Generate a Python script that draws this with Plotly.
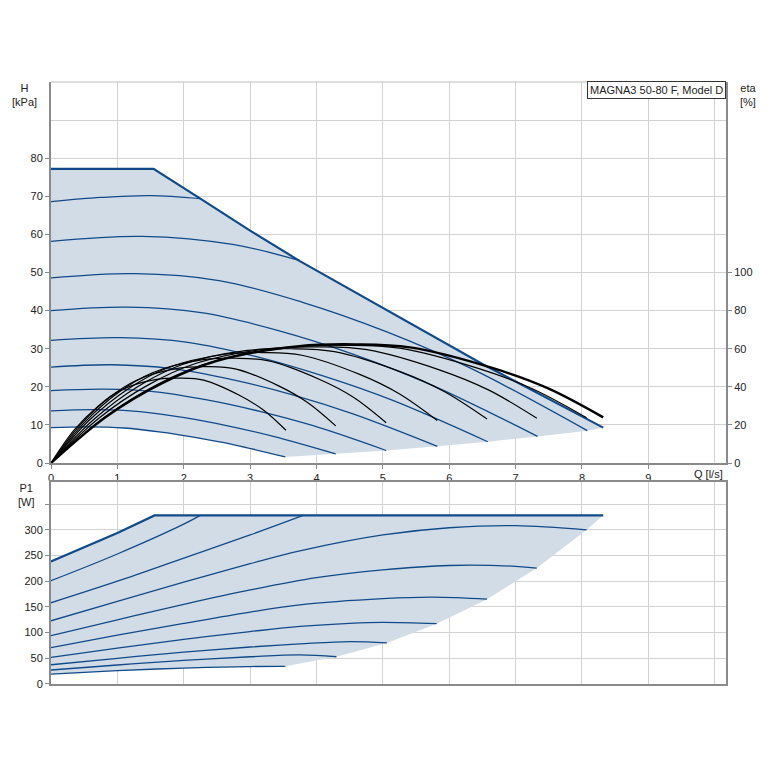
import plotly.graph_objects as go

# ---------------- data ----------------
# Head curves (Q [l/s], H [kPa]) for the nine speed steps
h_flow = [
    [0, 0.75, 1.5, 2.25],
    [0, 1.38, 2.76, 3.75],
    [0, 1.26, 2.53, 3.79, 5.05, 6.32, 8.08],
    [0, 1.15, 2.29, 3.44, 4.58, 5.73, 7.33],
    [0, 1.03, 2.06, 3.08, 4.11, 5.14, 6.58],
    [0, 0.91, 1.82, 2.73, 3.64, 4.55, 5.82],
    [0, 0.79, 1.58, 2.37, 3.16, 3.95, 5.05],
    [0, 0.67, 1.34, 2.01, 2.68, 3.35, 4.29],
    [0, 0.55, 1.10, 1.66, 2.21, 2.76, 3.53],
]
h_head = [
    [68.6, 69.7, 70.2, 69.4],
    [58.2, 59.5, 57.3, 53.1],
    [48.6, 49.7, 47.9, 42.2, 34.5, 24.9, 8.5],
    [40.0, 40.9, 39.4, 34.7, 28.4, 20.5, 7.0],
    [32.2, 32.9, 31.7, 28.0, 22.8, 16.5, 5.6],
    [25.2, 25.8, 24.8, 21.9, 17.9, 12.9, 4.4],
    [19.0, 19.4, 18.7, 16.5, 13.5, 9.8, 3.3],
    [13.7, 14.0, 13.5, 11.9, 9.7, 7.0, 2.4],
    [9.3, 9.5, 9.2, 8.1, 6.6, 4.8, 1.6],
]
# Maximum curve
hmax_flow = [0, 1.545, 2.25, 3.0, 3.75, 4.21, 5.0, 6.52, 8.32]
hmax_head = [77.2, 77.2, 69.4, 61.0, 53.0, 48.5, 40.6, 25.8, 9.3]

# Efficiency curves (Q [l/s], eta [%]); last one is the max curve
eta_flow = [
    [0, 0.35, 0.71, 1.06, 1.59, 1.95, 2.30, 2.83, 3.19, 3.54],
    [0, 0.43, 0.86, 1.29, 1.93, 2.36, 2.79, 3.43, 3.86, 4.29],
    [0, 0.51, 1.01, 1.52, 2.27, 2.78, 3.28, 4.04, 4.55, 5.05],
    [0, 0.58, 1.16, 1.75, 2.62, 3.20, 3.78, 4.66, 5.24, 5.82],
    [0, 0.66, 1.31, 1.97, 2.96, 3.61, 4.27, 5.26, 5.91, 6.57],
    [0, 0.73, 1.46, 2.20, 3.29, 4.03, 4.76, 5.86, 6.59, 7.32],
    [0, 0.81, 1.61, 2.42, 3.63, 4.44, 5.25, 6.46, 7.26, 8.07],
]
eta_val = [
    [0, 17.4, 29.9, 38.4, 43.9, 44.6, 43.5, 35.7, 28.1, 17.2],
    [0, 19.7, 33.9, 43.5, 49.8, 50.6, 49.3, 40.5, 31.9, 19.5],
    [0, 21.5, 36.9, 47.3, 54.2, 55.0, 53.6, 44.0, 34.7, 21.2],
    [0, 22.6, 38.9, 49.9, 57.1, 58.0, 56.6, 46.4, 36.5, 22.3],
    [0, 23.4, 40.2, 51.6, 59.1, 60.0, 58.5, 48.0, 37.8, 23.1],
    [0, 23.8, 40.9, 52.5, 60.1, 61.0, 59.5, 48.8, 38.4, 23.5],
    [0, 24.1, 41.4, 53.1, 60.9, 61.8, 60.3, 49.4, 38.9, 23.8],
]
etamax_flow = [0, 0.83, 1.66, 2.50, 3.74, 4.58, 5.41, 6.66, 7.49, 8.32]
etamax_val = [0, 24.3, 41.7, 53.6, 61.4, 62.3, 60.7, 49.8, 39.2, 24.0]

# Power curves (Q [l/s], P1 [W])
p_flow = [
    [0, 1, 2, 2.25],
    [0, 1, 2, 3, 3.8],
    [0, 1, 2, 3, 3.75, 5, 6, 7, 8.07],
    [0, 1, 2, 3, 4, 5, 6, 7, 7.32],
    [0, 1, 2, 3, 3.75, 5, 5.75, 6.57],
    [0, 1, 2, 3, 3.75, 4.5, 5, 5.81],
    [0, 1, 2, 3, 3.75, 4.5, 5.06],
    [0, 1, 2, 3, 3.75, 4.3],
    [0, 1, 2, 3, 3.53],
]
p_power = [
    [201, 253, 311, 328],
    [158, 200, 245, 290, 328],
    [123, 161, 198, 234, 259, 290, 304, 308, 300],
    [94, 125, 155, 183, 207, 222, 230.6, 229, 225.5],
    [70.6, 95, 118, 140, 154, 166, 169, 165],
    [51.8, 70, 87, 102, 112, 118, 119.8, 117.3],
    [37.5, 50, 62, 72, 78, 82.5, 80],
    [27.2, 37, 46, 53, 56.5, 53],
    [19.4, 26, 31, 34, 34.3],
]
pmax_flow = [0, 1.0, 1.56, 8.32]
pmax_power = [238.4, 294, 328, 328]

x_ticks = [0, 1, 2, 3, 4, 5, 6, 7, 8, 9]
h_ticks = [0, 10, 20, 30, 40, 50, 60, 70, 80]
eta_ticks = [0, 20, 40, 60, 80, 100]
p_ticks = [0, 50, 100, 150, 200, 250, 300, 350]
p_ticklabels = ["0", "50", "100", "150", "200", "250", "300", ""]

title_text = "MAGNA3 50-80 F, Model D"

# ---------------- styling ----------------
BLUE = "#114a88"
FILL = "#d1dce7"
GRID = "#d2d2d2"
AXIS = "#8a8a8a"
FONT = dict(family="Liberation Sans, Arial, sans-serif", size=11, color="#222222")

fig = go.Figure()

# --- head fill region (built from the curve data) ---
fill_q = list(h_flow[-1])
fill_h = list(h_head[-1])
for i in range(len(h_flow) - 2, 1, -1):
    fill_q.append(h_flow[i][-1])
    fill_h.append(h_head[i][-1])
fill_q += hmax_flow[::-1]
fill_h += hmax_head[::-1]
fig.add_trace(go.Scatter(x=fill_q, y=fill_h, mode="lines", fill="toself",
                         fillcolor=FILL, line=dict(width=0), xaxis="x", yaxis="y",
                         hoverinfo="skip", showlegend=False))

for q, h in zip(h_flow, h_head):
    fig.add_trace(go.Scatter(x=q, y=h, mode="lines", line=dict(color=BLUE, width=1.3, shape="spline"),
                             xaxis="x", yaxis="y", showlegend=False))
fig.add_trace(go.Scatter(x=hmax_flow, y=hmax_head, mode="lines", line=dict(color=BLUE, width=2.2),
                         xaxis="x", yaxis="y", showlegend=False))

for q, e in zip(eta_flow, eta_val):
    fig.add_trace(go.Scatter(x=q, y=e, mode="lines", line=dict(color="#000000", width=1.2, shape="spline"),
                             xaxis="x", yaxis="y2", showlegend=False))
fig.add_trace(go.Scatter(x=etamax_flow, y=etamax_val, mode="lines",
                         line=dict(color="#000000", width=2.4, shape="spline"),
                         xaxis="x", yaxis="y2", showlegend=False))

# --- power fill region ---
pf_q = list(p_flow[-1])
pf_p = list(p_power[-1])
for i in range(len(p_flow) - 2, 1, -1):
    pf_q.append(p_flow[i][-1])
    pf_p.append(p_power[i][-1])
pf_q += pmax_flow[::-1]
pf_p += pmax_power[::-1]
fig.add_trace(go.Scatter(x=pf_q, y=pf_p, mode="lines", fill="toself",
                         fillcolor=FILL, line=dict(width=0), xaxis="x2", yaxis="y3",
                         hoverinfo="skip", showlegend=False))
for q, p in zip(p_flow, p_power):
    fig.add_trace(go.Scatter(x=q, y=p, mode="lines", line=dict(color=BLUE, width=1.3, shape="spline"),
                             xaxis="x2", yaxis="y3", showlegend=False))
fig.add_trace(go.Scatter(x=pmax_flow, y=pmax_power, mode="lines", line=dict(color=BLUE, width=2.2),
                         xaxis="x2", yaxis="y3", showlegend=False))

XR = [0, 10.17]
axis_common = dict(showline=True, linecolor=AXIS, linewidth=2, zeroline=False,
                   gridcolor=GRID, gridwidth=1.3, tickfont=FONT)

fig.update_layout(
    width=766, height=766,
    margin=dict(l=43, r=48, t=74, b=90),
    paper_bgcolor="white", plot_bgcolor="white",
    font=FONT,
    showlegend=False,
    xaxis=dict(domain=[0, 1], anchor="y", range=XR, tickvals=x_ticks,
               ticks="outside", ticklen=4, tickcolor=AXIS, showgrid=True,
               minor=dict(tickvals=[10], showgrid=True, gridcolor=GRID, ticks=""),
               **axis_common),
    yaxis=dict(domain=[0.367, 1], anchor="x", range=[0, 100], tickvals=h_ticks,
               ticks="outside", ticklen=4, tickcolor=AXIS, showgrid=True,
               minor=dict(tickvals=[90], showgrid=True, gridcolor=GRID, ticks=""),
               **axis_common),
    yaxis2=dict(overlaying="y", side="right", anchor="x", range=[0, 200], tickvals=eta_ticks,
                ticks="outside", ticklen=4, tickcolor=AXIS, showgrid=False,
                showline=True, linecolor=AXIS, linewidth=2, zeroline=False, tickfont=FONT),
    xaxis2=dict(domain=[0, 1], anchor="y3", range=XR, tickvals=x_ticks, showticklabels=False,
                ticks="", showgrid=True, mirror=True,
                minor=dict(tickvals=[10], showgrid=True, gridcolor=GRID, ticks=""),
                **axis_common),
    yaxis3=dict(domain=[0, 0.3355], anchor="x2", range=[0, 393], tickvals=p_ticks,
                ticktext=p_ticklabels, ticks="outside", ticklen=4, tickcolor=AXIS,
                showgrid=True, mirror=True, **axis_common),
)

fig.add_shape(type="line", xref="x domain", yref="y domain", x0=0, x1=1, y0=1, y1=1,
              line=dict(color=GRID, width=1.5))

fig.add_annotation(text=title_text, xref="x domain", yref="y domain", x=1, y=1.003,
                   xanchor="right", yanchor="top", showarrow=False, bgcolor="white",
                   bordercolor="#333333", borderwidth=1, borderpad=2, font=FONT)
fig.add_annotation(text="H<br>[kPa]", xref="paper", yref="paper", x=(25 - 51) / 675, y=1.003,
                   xanchor="center", yanchor="top", showarrow=False, font=FONT)
fig.add_annotation(text="eta<br>[%]", xref="paper", yref="paper", x=(748 - 51) / 675, y=1.003,
                   xanchor="center", yanchor="top", showarrow=False, font=FONT)
fig.add_annotation(text="P1<br>[W]", xref="paper", yref="paper", x=(26 - 51) / 675, y=(684 - 480) / 602,
                   xanchor="center", yanchor="top", showarrow=False, font=FONT)
fig.add_annotation(text="Q [l/s]", xref="x", yref="paper", x=9.9, y=(684 - 474) / 602,
                   xanchor="center", yanchor="middle", showarrow=False, font=FONT)

fig.write_html("out.html")
